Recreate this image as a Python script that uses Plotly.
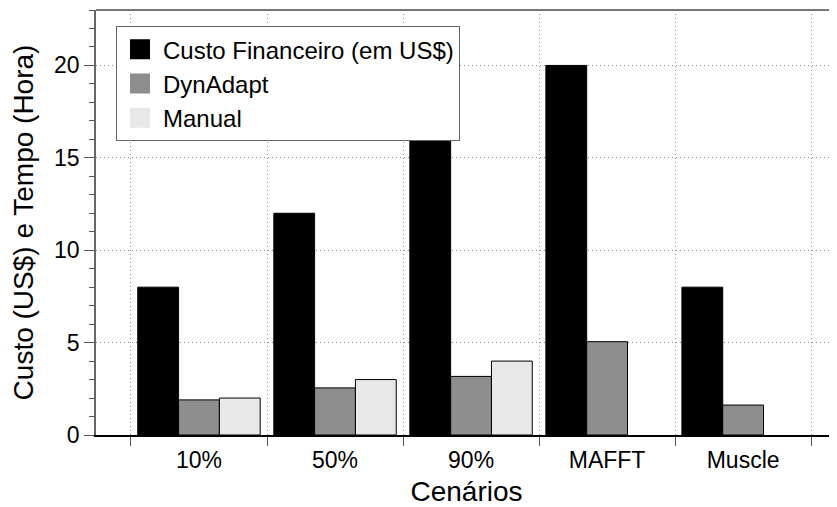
import plotly.graph_objects as go

# data
cenarios = ["10%", "50%", "90%", "MAFFT", "Muscle"]
custo_financeiro = [8, 12, 16, 20, 8]
dynadapt = [1.9, 2.55, 3.17, 5.05, 1.62]
manual = [2.0, 3.0, 4.0, None, None]

series_names = ["Custo Financeiro (em US$)", "DynAdapt", "Manual"]
series_colors = ["#000000", "#8e8e8e", "#e8e8e8"]
series_values = [custo_financeiro, dynadapt, manual]

FONT = dict(family="Liberation Sans, Arial, sans-serif", size=23, color="#000000")
GRID = dict(showgrid=True, gridcolor="#8a8a8a", griddash="1px,3px", gridwidth=1)

fig = go.Figure()

for name, color, values in zip(series_names, series_colors, series_values):
    fig.add_trace(
        go.Bar(
            x=cenarios,
            y=values,
            name=name,
            marker=dict(color=color, line=dict(color="#000000", width=1)),
            showlegend=False,
        )
    )
    # larger legend swatch than the default bar symbol
    fig.add_trace(
        go.Scatter(
            x=[None],
            y=[None],
            mode="markers",
            name=name,
            marker=dict(symbol="square", size=16, color=color,
                        line=dict(color=color, width=4)),
        )
    )

# the page body adds an 8px offset, so the figure is 8px smaller
fig.update_layout(
    width=829,
    height=499,
    font=FONT,
    paper_bgcolor="white",
    plot_bgcolor="white",
    barmode="group",
    bargap=0.1,
    bargroupgap=0,
    margin=dict(l=88, r=0, t=2, b=72),
    legend=dict(
        x=0.027,
        y=0.962,
        xanchor="left",
        yanchor="top",
        bgcolor="white",
        bordercolor="#666666",
        borderwidth=1,
        font=dict(size=24),
        itemwidth=36,
        tracegroupgap=0,
    ),
    shapes=[
        dict(type="line", xref="paper", yref="paper", x0=0, x1=1, y0=1, y1=1,
             line=dict(color="#777777", width=2)),
    ],
)

fig.update_xaxes(
    type="category",
    range=[-0.757, 4.69],
    automargin=False,
    tickson="boundaries",
    ticks="outside",
    ticklen=9,
    tickcolor="#555555",
    ticklabelstandoff=4,
    showline=True,
    linecolor="#000000",
    linewidth=1.5,
    title=dict(text="Cenários", standoff=14),
    **GRID,
)

fig.update_yaxes(
    range=[0, 23],
    automargin=False,
    tickvals=[0, 5, 10, 15, 20],
    ticks="outside",
    ticklen=10,
    tickcolor="#555555",
    minor=dict(dtick=1, ticks="outside", ticklen=5, tickcolor="#555555", showgrid=False),
    showline=True,
    linecolor="#666666",
    linewidth=1.5,
    zeroline=False,
    title=dict(text="Custo (US$) e Tempo (Hora)", standoff=18),
    **GRID,
)

fig.write_html("out.html")
